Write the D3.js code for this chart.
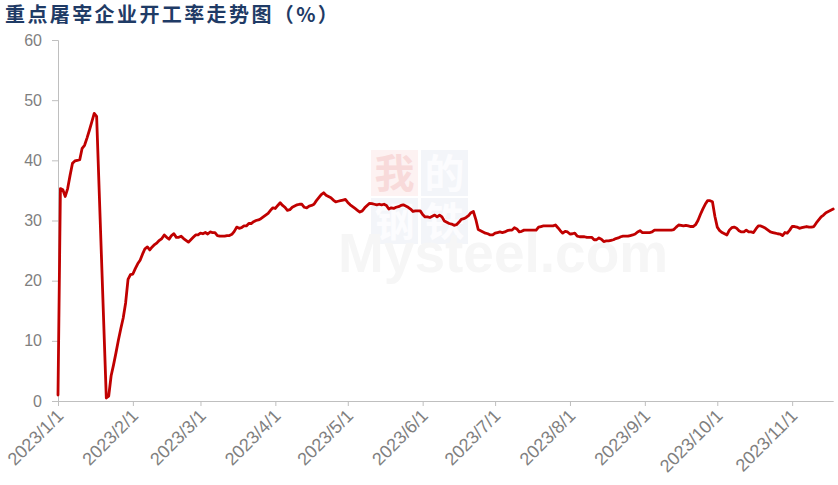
<!DOCTYPE html>
<html>
<head>
<meta charset="utf-8">
<script src="https://cdn.jsdelivr.net/npm/d3@7"></script>
<style>
  html, body { margin: 0; padding: 0; background: #fff; }
  svg { display: block; }
</style>
</head>
<body>
<svg id="chart" width="838" height="485"></svg>
<script>
// ---- data ----
const chartTitle = "重点屠宰企业开工率走势图（%）";
const startDate = "2023-01-01";   // one value per day from this date (null = no data)
const operatingRate = [
  1, 35.3, 35.1, 34.0, 35.3, 37.5, 39.5, 39.9, 40.0, 40.1,
  42.0, 42.5, 43.7, 45.0, 46.4, 47.8, 47.3, null, null, null,
  0.5, 0.8, 4.2, 6.0, 8.0, 10.1, 12.0, 13.8, 16.3, 20.2,
  21.0, 21.1, 22.0, 22.8, 23.4, 24.4, 25.3, 25.6, 25.1, 25.6,
  26.0, 26.3, 26.7, 27.0, 27.6, 27.2, 26.9, 27.5, 27.8, 27.2,
  27.2, 27.4, 27.0, 26.7, 26.4, 26.8, 27.2, 27.6, 27.6, 27.9,
  27.8, 28.0, 27.75, 28.1, 28.0, 28.0, 27.5, 27.4, 27.4, 27.4,
  27.5, 27.5, 27.7, 28.2, 28.9, 28.7, 28.8, 29.1, 29.1, 29.5,
  29.5, 29.8, 30.0, 30.1, 30.3, 30.6, 30.9, 31.2, 31.7, 32.1,
  32.0, 32.5, 32.95, 32.5, 32.2, 31.7, 31.8, 32.2, 32.4, 32.6,
  32.7, 32.7, 32.2, 32.1, 32.4, 32.5, 32.7, 33.3, 33.8, 34.3,
  34.6, 34.2, 34.0, 33.8, 33.4, 33.1, 33.2, 33.3, 33.4, 33.5,
  33.0, 32.6, 32.3, 32.0, 31.7, 31.4, 31.6, 32.1, 32.5, 32.85,
  32.8, 32.7, 32.6, 32.7, 32.6, 32.7, 32.5, 31.9, 32.1, 32.0,
  32.2, 32.3, 32.5, 32.6, 32.4, 32.2, 31.9, 31.5, 31.6, 31.6,
  31.6, 31.0, 30.6, 30.6, 30.5, 30.7, 30.9, 30.6, 30.9, 30.6,
  29.9, 29.7, 29.5, 29.4, 29.2, 29.3, 29.7, 30.2, 30.3, 30.5,
  30.8, 31.3, 31.5, 30.2, 28.5, 28.3, 28.1, 27.9, 27.8, 27.6,
  27.6, 27.9, 28.0, 28.1, 28.0, 28.1, 28.3, 28.4, 28.4, 28.8,
  28.6, 28.1, 28.2, 28.4, 28.4, 28.4, 28.4, 28.4, 28.4, 28.9,
  29.0, 29.1, 29.1, 29.1, 29.1, 29.1, 29.25, 28.8, 28.3, 27.9,
  28.2, 28.1, 27.75, 27.8, 27.9, 27.4, 27.3, 27.3, 27.3, 27.2,
  27.2, 27.2, 26.8, 26.8, 27.1, 26.9, 26.5, 26.6, 26.6, 26.7,
  26.8, 27.0, 27.1, 27.3, 27.4, 27.4, 27.4, 27.5, 27.6, 27.75,
  28.1, 28.3, 28.0, 28.0, 28.0, 28.0, 28.1, 28.4, 28.4, 28.4,
  28.4, 28.4, 28.4, 28.4, 28.4, 28.5, 28.9, 29.25, 29.2, 29.1,
  29.2, 29.1, 29.0, 29.0, 29.3, 30.0, 31.0, 31.9, 32.7, 33.3,
  33.3, 33.1, 30.7, 28.9, 28.3, 28.0, 27.8, 27.6, 28.4, 28.8,
  28.9, 28.7, 28.3, 28.1, 28.1, 28.4, 28.1, 28.1, 28.0, 28.6,
  29.1, 29.1, 28.9, 28.7, 28.4, 28.1, 28.0, 27.9, 27.8, 27.75,
  27.5, 28.0, 27.9, 28.4, 29.0, 29.0, 28.9, 28.7, 28.8, 28.9,
  29.0, 28.9, 28.9, 29.0, 29.6, 30.1, 30.6, 30.9, 31.3, 31.5,
  31.7, 31.9
];
const xTickLabels = ["2023/1/1","2023/2/1","2023/3/1","2023/4/1","2023/5/1","2023/6/1",
                     "2023/7/1","2023/8/1","2023/9/1","2023/10/1","2023/11/1"];
const yTickValues = [0, 10, 20, 30, 40, 50, 60];
const xDomainEnd = "2023-11-18";

// ---- build ----
const parse = d3.timeParse("%Y-%m-%d");
const parseTick = d3.timeParse("%Y/%m/%d");
const t0 = parse(startDate);
const series = operatingRate
  .map((v, i) => ({ date: d3.timeDay.offset(t0, i), value: v }))
  .filter(d => d.value !== null);

const svg = d3.select("#chart");
const axisColor = "#bfbfbf";
const textColor = "#7f7f7f";
const fontFam = "'Liberation Sans', Arial, sans-serif";

const x = d3.scaleTime().domain([t0, parse(xDomainEnd)]).range([58, 833.2]);
const y = d3.scaleLinear().domain([0, 60]).range([401, 40]);

// watermark
const wm = svg.append("g").attr("class", "watermark");
const tiles = [
  { ch: "我", col: 0, row: 0, bg: "#fdf2f2", fg: "#f8dada" },
  { ch: "的", col: 1, row: 0, bg: "#f3f5f9", fg: "#fcfcfe" },
  { ch: "钢", col: 0, row: 1, bg: "#f3f5f9", fg: "#fcfcfe" },
  { ch: "铁", col: 1, row: 1, bg: "#f3f5f9", fg: "#fcfcfe" }
];
tiles.forEach(t => {
  const tx = 371 + t.col * 50, ty = 150 + t.row * 48;
  wm.append("rect").attr("x", tx).attr("y", ty).attr("width", 47).attr("height", 46).attr("fill", t.bg);
  wm.append("text").attr("x", tx + 23.5).attr("y", ty + 38)
    .attr("text-anchor", "middle")
    .attr("font-family", "'Noto Sans CJK SC', sans-serif")
    .attr("font-size", 40).attr("font-weight", 700)
    .attr("fill", t.fg).text(t.ch);
});
wm.append("text").attr("x", 338).attr("y", 272)
  .attr("font-family", fontFam).attr("font-size", 55).attr("font-weight", 700)
  .attr("fill", "#f6f6f6").text("Mysteel.com");

// title
svg.append("text").attr("x", 5).attr("y", 22)
  .attr("font-family", "'Noto Sans CJK SC', sans-serif")
  .attr("font-size", 20).attr("font-weight", 700)
  .attr("letter-spacing", 2.4)
  .attr("fill", "#1f3b66").text(chartTitle);

// y axis
const yAxis = d3.axisLeft(y).tickValues(yTickValues).tickSize(6).tickPadding(10).tickFormat(d3.format("d"));
const gy = svg.append("g").attr("transform", "translate(58,0)").call(yAxis);
gy.select(".domain").attr("stroke", axisColor).attr("stroke-width", 1);
gy.selectAll(".tick line").attr("stroke", axisColor);
gy.selectAll(".tick text").attr("fill", textColor).attr("font-size", 16).attr("font-family", fontFam);

// x axis
const xTicks = xTickLabels.map(s => parseTick(s));
const xAxis = d3.axisBottom(x).tickValues(xTicks).tickSize(5).tickSizeOuter(0)
  .tickFormat((d, i) => xTickLabels[i]);
const gx = svg.append("g").attr("transform", "translate(0,401)").call(xAxis);
gx.select(".domain").attr("stroke", axisColor).attr("stroke-width", 1);
gx.selectAll(".tick line").attr("stroke", axisColor);
gx.selectAll(".tick text")
  .attr("fill", textColor).attr("font-size", 18).attr("font-family", fontFam)
  .attr("text-anchor", "end")
  .attr("dy", null).attr("y", 0)
  .attr("transform", "translate(6,16) rotate(-45)");

// line
const line = d3.line().x(d => x(d.date)).y(d => y(d.value));
svg.append("path").datum(series)
  .attr("fill", "none").attr("stroke", "#c00000").attr("stroke-width", 2.8)
  .attr("stroke-linejoin", "round").attr("stroke-linecap", "round")
  .attr("d", line);
</script>
</body>
</html>
